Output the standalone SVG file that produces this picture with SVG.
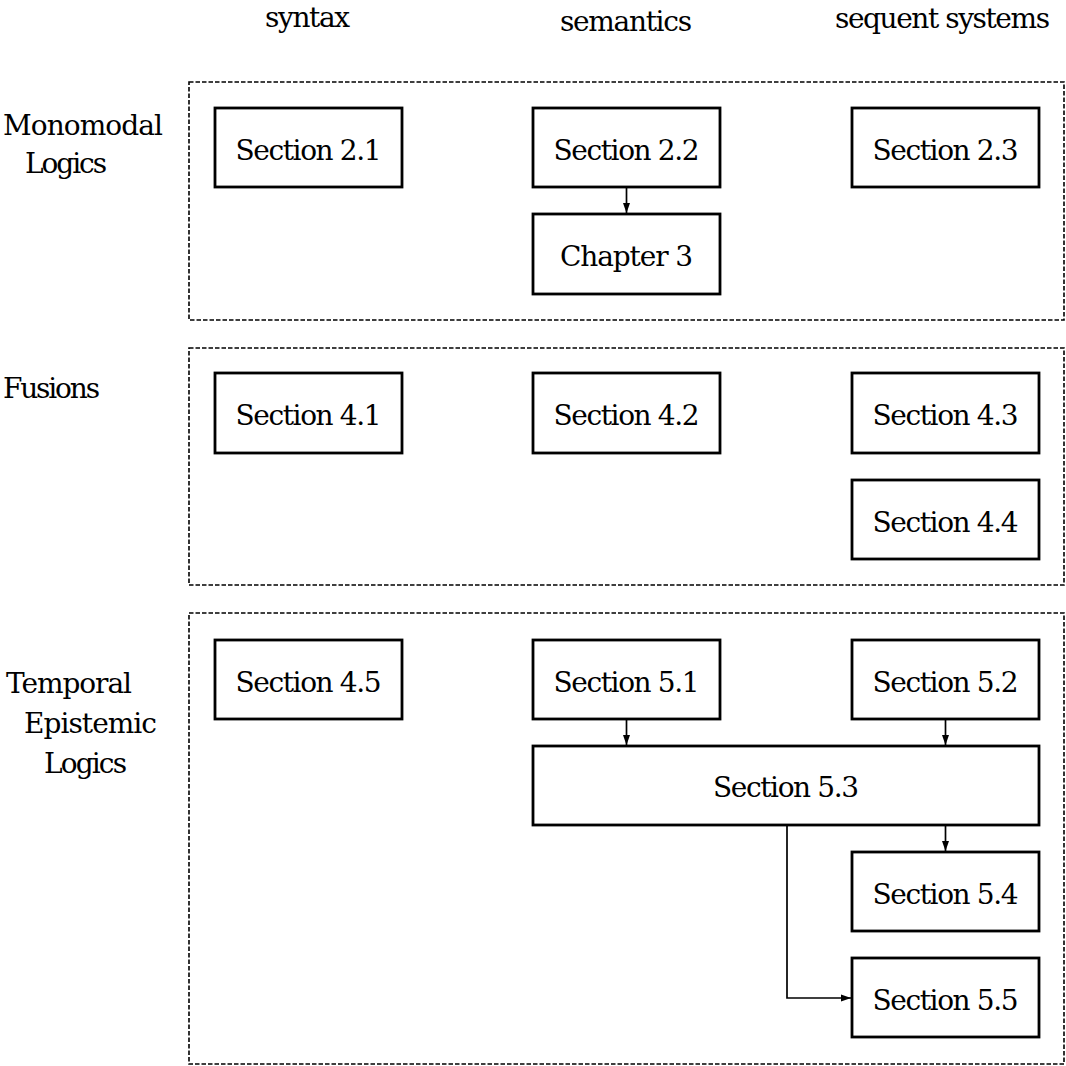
<svg xmlns="http://www.w3.org/2000/svg" width="1066" height="1066" viewBox="0 0 1066 1066" font-family="'DejaVu Serif', serif">
<defs>
<style>
text{font-family:'DejaVu Serif','Liberation Serif',serif;font-size:28px;fill:#000}
.c{text-anchor:middle}
.box{fill:#fff;stroke:#000;stroke-width:2.8}
.frame{fill:none;stroke:#000;stroke-width:1.6;stroke-dasharray:4.5 2}
.conn{fill:none;stroke:#000;stroke-width:1.7}
</style>
<marker id="ah" markerUnits="userSpaceOnUse" markerWidth="11" markerHeight="9" refX="10" refY="4.5" orient="auto">
<path d="M0,1 L10,4.5 L0,8 Z" fill="#000"/>
</marker>
</defs>
<rect width="1066" height="1066" fill="#fff"/>
<g id="headers">
<text class="c" x="307.5" y="27" textLength="85">syntax</text>
<text class="c" x="626" y="31" textLength="132">semantics</text>
<text class="c" x="942.5" y="28" textLength="215">sequent systems</text>
</g>
<g id="row-labels">
<text x="3" y="135" textLength="160">Monomodal</text>
<text x="25" y="173" textLength="82">Logics</text>
<text x="3" y="398" textLength="97">Fusions</text>
<text x="6" y="693" textLength="126">Temporal</text>
<text x="24" y="733" textLength="133">Epistemic</text>
<text x="44" y="773" textLength="83">Logics</text>
</g>
<g id="frames">
<rect class="frame" x="189" y="82" width="875" height="238"/>
<rect class="frame" x="189" y="348" width="875" height="237"/>
<rect class="frame" x="189" y="613" width="875" height="451"/>
</g>
<g id="connectors">
<path class="conn" d="M626.5,188 V213" marker-end="url(#ah)"/>
<path class="conn" d="M626.5,720 V745" marker-end="url(#ah)"/>
<path class="conn" d="M945.5,720 V745" marker-end="url(#ah)"/>
<path class="conn" d="M945.5,826 V851" marker-end="url(#ah)"/>
<path class="conn" d="M787,826 V998 H851" marker-end="url(#ah)"/>
</g>
<g id="n21"><rect class="box" x="215" y="108" width="187" height="79"/><text class="c" x="308.5" y="160" textLength="146">Section 2.1</text></g>
<g id="n22"><rect class="box" x="533" y="108" width="187" height="79"/><text class="c" x="626.5" y="160" textLength="146">Section 2.2</text></g>
<g id="n23"><rect class="box" x="852" y="108" width="187" height="79"/><text class="c" x="945.5" y="160" textLength="146">Section 2.3</text></g>
<g id="c3"><rect class="box" x="533" y="214" width="187" height="80"/><text class="c" x="626.5" y="266" textLength="133">Chapter 3</text></g>
<g id="n41"><rect class="box" x="215" y="373" width="187" height="80"/><text class="c" x="308.5" y="425" textLength="146">Section 4.1</text></g>
<g id="n42"><rect class="box" x="533" y="373" width="187" height="80"/><text class="c" x="626.5" y="425" textLength="146">Section 4.2</text></g>
<g id="n43"><rect class="box" x="852" y="373" width="187" height="80"/><text class="c" x="945.5" y="425" textLength="146">Section 4.3</text></g>
<g id="n44"><rect class="box" x="852" y="480" width="187" height="79"/><text class="c" x="945.5" y="532" textLength="146">Section 4.4</text></g>
<g id="n45"><rect class="box" x="215" y="640" width="187" height="79"/><text class="c" x="308.5" y="692" textLength="146">Section 4.5</text></g>
<g id="n51"><rect class="box" x="533" y="640" width="187" height="79"/><text class="c" x="626.5" y="692" textLength="146">Section 5.1</text></g>
<g id="n52"><rect class="box" x="852" y="640" width="187" height="79"/><text class="c" x="945.5" y="692" textLength="146">Section 5.2</text></g>
<g id="n53"><rect class="box" x="533" y="746" width="506" height="79"/><text class="c" x="786" y="797" textLength="146">Section 5.3</text></g>
<g id="n54"><rect class="box" x="852" y="852" width="187" height="79"/><text class="c" x="945.5" y="904" textLength="146">Section 5.4</text></g>
<g id="n55"><rect class="box" x="852" y="958" width="187" height="79"/><text class="c" x="945.5" y="1010" textLength="146">Section 5.5</text></g>
</svg>
